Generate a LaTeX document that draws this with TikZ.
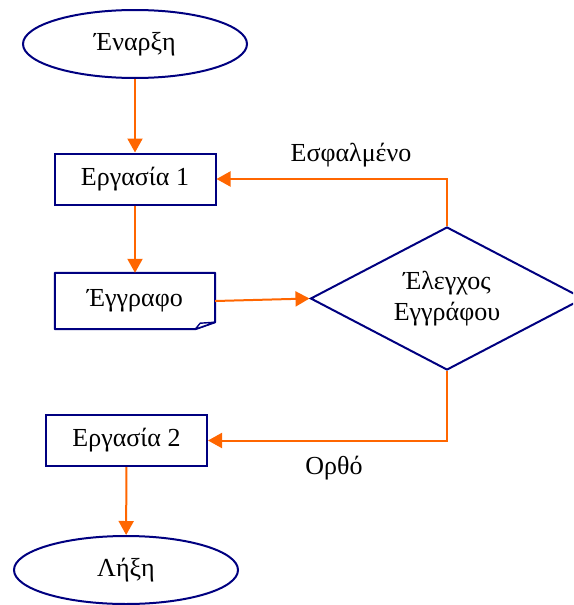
\documentclass[tikz,border=0pt]{standalone}
\usepackage{fontspec}
\setmainfont{Liberation Serif}
\usetikzlibrary{shapes.geometric,arrows.meta,calc}
\definecolor{shapeblue}{RGB}{0,0,128}
\definecolor{floworange}{RGB}{255,102,0}
\tikzset{
  terminal/.style={ellipse,draw=shapeblue,line width=2pt,minimum width=224pt,minimum height=68pt,inner sep=0pt},
  process/.style={rectangle,draw=shapeblue,line width=2pt,minimum width=161pt,minimum height=51pt,inner sep=0pt},
  docbox/.style={rectangle,minimum width=160pt,minimum height=56pt,inner sep=0pt},
  decision/.style={diamond,draw=shapeblue,line width=2pt,minimum width=273pt,minimum height=143pt,inner sep=0pt},
  flow/.style={draw=floworange,line width=2pt,-{Triangle[length=14pt,width=15pt]}},
  lbl/.style={inner sep=0pt}
}
\begin{document}
\begin{tikzpicture}[x=1pt,y=-1pt,font=\fontsize{26}{31}\selectfont]
\useasboundingbox (0,0) rectangle (573,605);
\begin{scope}
\clip (0,0) rectangle (573,605);
% shapes
\node[terminal] (start) at (135,44) {Έναρξη};
\node[process] (t1) at (135,179) {Εργασία 1};
\node[docbox] (doc) at (135,301) {Έγγραφο};
\draw[shapeblue,line width=2pt,line join=round]
  (doc.north west) -- (doc.north east) -- ($(doc.south east)+(0,-7)$)
  -- ($(doc.south east)+(-20,0)$) -- (doc.south west) -- cycle;
\draw[shapeblue,line width=1.4pt,fill=white,line join=round]
  ($(doc.south east)+(-20,0)$) -- ($(doc.south east)+(-15,-6)$) -- ($(doc.south east)+(0,-7)$) -- cycle;
\node[decision] (chk) at (447,298.5) {};
\node[lbl,align=center] (chktext) at (chk) {Έλεγχος\\Εγγράφου};
\node[process] (t2) at (126.5,440.5) {Εργασία 2};
\node[terminal] (stop) at (126,570) {Λήξη};
% connectors
\draw[flow] (start) -- (t1);
\draw[flow] (t1) -- (doc);
\draw[flow] (doc.east) -- (chk.west);
\draw[flow] (chk.north) |- (t1.east);
\draw[flow] (chk.south) |- (t2.east);
\draw[flow] (t2) -- (stop);
% branch labels
\node[lbl] (wrong) at (351,155) {Εσφαλμένο};
\node[lbl] (right) at (334,468) {Ορθό};
\end{scope}
\end{tikzpicture}
\end{document}
